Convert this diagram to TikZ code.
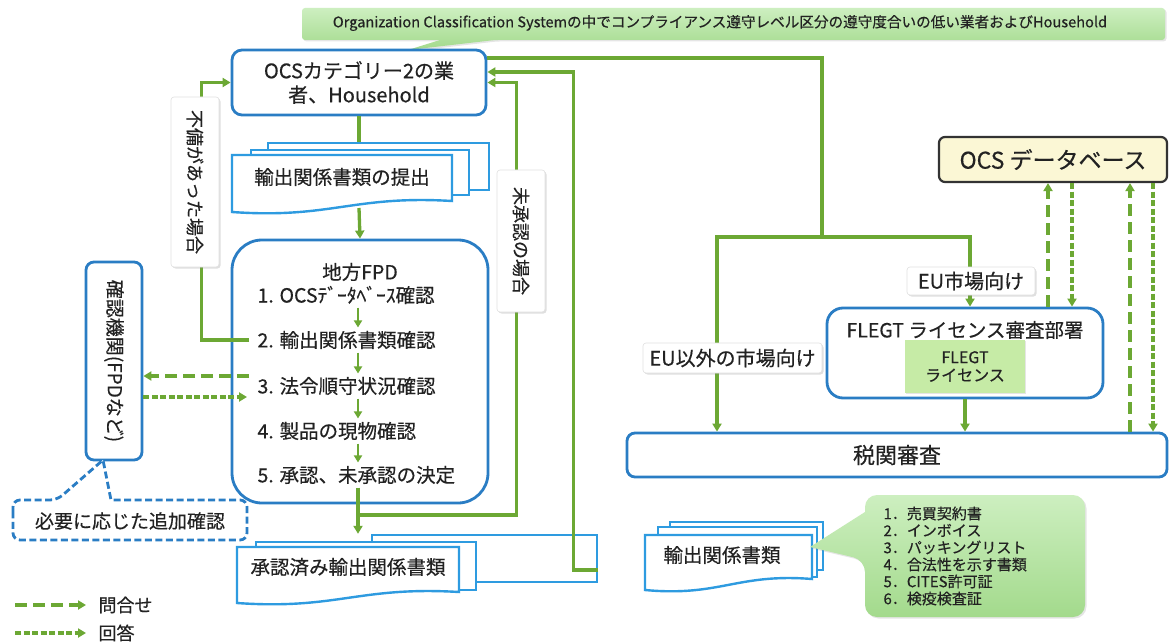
\documentclass[tikz,border=0pt]{standalone}
\usepackage{fontspec}
\setmainfont{Noto Sans CJK JP}[FakeBold=0.4]
\usetikzlibrary{arrows.meta,shadows,calc}
\definecolor{lgreen}{HTML}{6CA834}
\definecolor{bblue}{HTML}{2A7DC4}
\definecolor{dblue}{HTML}{2E9BE0}
\definecolor{cgreenT}{HTML}{CDEFC0}
\definecolor{cgreenB}{HTML}{A3DA8C}
\definecolor{lic}{HTML}{C6EBA6}
\definecolor{dbfill}{HTML}{FBF7D5}
\definecolor{txt}{HTML}{222222}
\newcommand\fsz[2]{\fontsize{#1}{#2}\selectfont}
\newcommand\docfront[4]{\draw[docl,fill=white] (#1,#2) -- (#3,#2) -- (#3,#4-11) .. controls ({#1+0.55*(#3-#1)},{#4-17}) and ({#1+0.45*(#3-#1)},{#4+7}) .. (#1,#4) -- cycle;}
\tikzset{
 grn/.style={draw=lgreen,line width=3.3pt},
 arr/.style={-{Triangle[length=8pt,width=9pt]}},
 smallarr/.style={draw=lgreen,line width=2.8pt,-{Triangle[length=7pt,width=8pt]}},
 qline/.style={draw=lgreen,line width=3.8pt,dash pattern=on 12pt off 6pt,-{Triangle[length=8pt,width=9pt]}},
 aline/.style={draw=lgreen,line width=3.8pt,dash pattern=on 6pt off 2.5pt,-{Triangle[length=8pt,width=9pt]}},
 bbox/.style={draw=bblue,line width=2.8pt,fill=white,rounded corners=10pt,text=txt},
 docl/.style={draw=dblue,line width=2.4pt},
 lbl/.style={fill=white,draw=black!12,line width=0.6pt,rounded corners=3pt,drop shadow={opacity=0.25,shadow xshift=1.5pt,shadow yshift=-1.5pt},text=txt},
 callg/.style={top color=cgreenT,bottom color=cgreenB,draw=none,drop shadow={opacity=0.2,shadow xshift=1.5pt,shadow yshift=-1.5pt}},
 itm/.style={font=\fsz{19.5}{22},text=txt,anchor=west},
}
\begin{document}
\begin{tikzpicture}[x=1pt,y=-1pt]
\useasboundingbox (0,0) rectangle (1169,644);
\fill[white] (0,0) rectangle (1169,644);

% top callout
\draw[callg,rounded corners=3pt] (302,8) -- (1165,8) -- (1165,40) -- (495,40) [sharp corners] -- (408,50) -- (440,40) [rounded corners=3pt] -- (302,40) -- cycle;
\node[font=\fsz{14.6}{17},text=txt] (oc) at (720,23) {Organization Classification Systemの中でコンプライアンス遵守レベル区分の遵守度合いの低い業者およびHousehold};

% OCS category box
\node[bbox,minimum width=254pt,minimum height=65pt,align=center,font=\fsz{20}{24}] (ocs) at (359,82.5) {OCSカテゴリー2の業\\者、Household};

% doc 1
\node[docl,fill=white,minimum width=221pt,minimum height=47pt] (d1c) at (378.5,166.5) {};
\node[docl,fill=white,minimum width=218pt,minimum height=45pt] (d1m) at (360,172.5) {};
\docfront{232}{155}{452}{212}
\node[font=\fsz{19.5}{22},text=txt] (d1) at (342,177) {輸出関係書類の提出};
\coordinate (d1b) at (359,208);

% FPD box
\node[bbox,rounded corners=30pt,minimum width=256pt,minimum height=263pt] (fpd) at (360,371.5) {};
\node[font=\fsz{19.5}{22},text=txt] (fpdt) at (360,272) {地方FPD};
\node[itm] (i1) at (254,295) {1. OCSﾃﾞｰﾀﾍﾞｰｽ確認};
\node[itm] (i2) at (254,340) {2. 輸出関係書類確認};
\node[itm] (i3) at (254,386) {3. 法令順守状況確認};
\node[itm] (i4) at (254,431) {4. 製品の現物確認};
\node[itm] (i5) at (254,475) {5. 承認、未承認の決定};
\coordinate (ax) at (358,0);
\draw[smallarr] (ax |- i1.south) -- (ax |- i2.north);
\draw[smallarr] (ax |- i2.south) -- (ax |- i3.north);
\draw[smallarr] (ax |- i3.south) -- (ax |- i4.north);
\draw[smallarr] (ax |- i4.south) -- (ax |- i5.north);

% doc 2
\node[docl,fill=white,minimum width=225pt,minimum height=47pt] (d2c) at (484.5,558.5) {};
\node[docl,fill=white,minimum width=220pt,minimum height=48pt] (d2m) at (366,566) {};
\docfront{237}{547}{459}{603}
\node[font=\fsz{19.5}{22},text=txt] (d2) at (348,567) {承認済み輸出関係書類};

% right side boxes
\node[draw=black!80,fill=dbfill,line width=2.2pt,rounded corners=6pt,minimum width=228pt,minimum height=45pt,font=\fsz{23}{26},text=txt] (db) at (1053,159.5) {OCS データベース};
\node[bbox,rounded corners=16pt,minimum width=276pt,minimum height=90pt] (flegt) at (965,353) {};
\node[font=\fsz{19.5}{22},text=txt] (flegtt) at (965,330) {FLEGT ライセンス審査部署};
\node[fill=lic,minimum width=120pt,minimum height=53pt,align=center,font=\fsz{16}{18},text=txt,drop shadow={opacity=0.2,shadow xshift=1pt,shadow yshift=-1pt}] (lic) at (965,366.5) {FLEGT\\ライセンス};
\node[bbox,rounded corners=8pt,minimum width=540pt,minimum height=44pt,font=\fsz{22}{26}] (zeikan) at (897,455) {税関審査};

% kakunin box
\node[bbox,rounded corners=8pt,rotate=-90,minimum width=198pt,minimum height=56pt,font=\fsz{19}{22}] (kakunin) at (114,361) {確認機関(FPDなど)};

% connectors
\draw[grn] (ocs.south) -- (ocs.south |- d1c.north);
\draw[grn,arr] (d1b) -- (fpd.north);
\draw[grn,arr] ([xshift=-5pt]i2.west) -| ([xshift=-29pt]ocs.west) -- (ocs.west);
\coordinate (j1) at (358,515);
\draw[grn,arr] (ax |- i5.south) -- (ax |- d2c.north);
\draw[grn,arr] (j1) -| ([xshift=29pt]ocs.east) -- (ocs.east);
\draw[grn,arr] ([yshift=-11.5pt]d2c.east) -| ([xshift=86pt,yshift=10.5pt]ocs.east) -- ([yshift=10.5pt]ocs.east);
\coordinate (br) at (822,237);
\coordinate (bl) at (717,237);
\coordinate (brr) at (970,237);
\draw[grn] ([yshift=24.5pt]ocs.east) -| (br);
\draw[grn,arr] (br) -- (bl) -- (bl |- zeikan.north);
\draw[grn,arr] (br) -- (brr) -- (brr |- flegt.north);
\draw[grn,arr] (flegt.south) -- (flegt.south |- zeikan.north);

\coordinate (v1) at (1048,0);
\coordinate (v2) at (1072,0);
\coordinate (v3) at (1130,0);
\coordinate (v4) at (1153,0);
\draw[qline] (v1 |- flegt.north) -- (v1 |- db.south);
\draw[aline] (v2 |- db.south) -- (v2 |- flegt.north);
\draw[qline] (v3 |- zeikan.north) -- (v3 |- db.south);
\draw[aline] (v4 |- db.south) -- (v4 |- zeikan.north);

\draw[qline] ([xshift=-5pt,yshift=10pt]i3.west) -- ([yshift=-15pt]kakunin.north);
\draw[aline] ([yshift=-36pt]kakunin.north) -- ([xshift=-7pt,yshift=-11pt]i3.west);

% labels on lines
\node[lbl,rotate=-90,minimum width=170pt,minimum height=48pt,font=\fsz{18}{20}] (fubi) at (195,182) {不備があった場合};
\node[lbl,rotate=-90,minimum width=142pt,minimum height=48pt,font=\fsz{18}{20}] (mish) at (521,241) {未承認の場合};
\node[lbl,minimum width=128pt,minimum height=28pt,font=\fsz{20}{22}] (eu) at (971,281) {EU市場向け};
\node[lbl,minimum width=179pt,minimum height=30pt,font=\fsz{20}{22}] (eui) at (732.5,358) {EU以外の市場向け};

% dashed callout
\draw[draw=bblue,line width=2.8pt,dash pattern=on 7pt off 3.5pt,fill=white,rounded corners=7pt] (13,520) |- (57,500) [sharp corners] -- (103,460) -- (111,500) [rounded corners=7pt] -| (247,540) -| (13,520) -- cycle;
\node[font=\fsz{19}{22},text=txt] (tsuika) at (130,521) {必要に応じた追加確認};

% doc 3 and list callout
\node[docl,fill=white,minimum width=153pt,minimum height=48pt] (d3c) at (746.5,546) {};
\node[docl,fill=white,minimum width=159pt,minimum height=50pt] (d3m) at (737.5,552) {};
\docfront{645}{535}{812}{590}
\node[font=\fsz{19.5}{22},text=txt] (d3) at (722,555) {輸出関係書類};
\draw[callg,rounded corners=12pt] (865,512) |- (1085,495) |- (865,617) -- (865,560) [sharp corners] -- (810,547) -- cycle;
\node[anchor=west,align=left,font=\fsz{15}{17},text=txt] (list) at (880,556) {1．売買契約書\\2．インボイス\\3．パッキングリスト\\4．合法性を示す書類\\5．CITES許可証\\6．検疫検査証};

% legend
\coordinate (lq1) at (15,605);
\coordinate (lq2) at (86,605);
\coordinate (la1) at (15,633);
\coordinate (la2) at (86,633);
\draw[qline] (lq1) -- (lq2);
\draw[aline] (la1) -- (la2);
\node[anchor=west,font=\fsz{18}{20},text=txt] (lq) at (95,605) {問合せ};
\node[anchor=west,font=\fsz{18}{20},text=txt] (la) at (95,633) {回答};
\end{tikzpicture}
\end{document}
